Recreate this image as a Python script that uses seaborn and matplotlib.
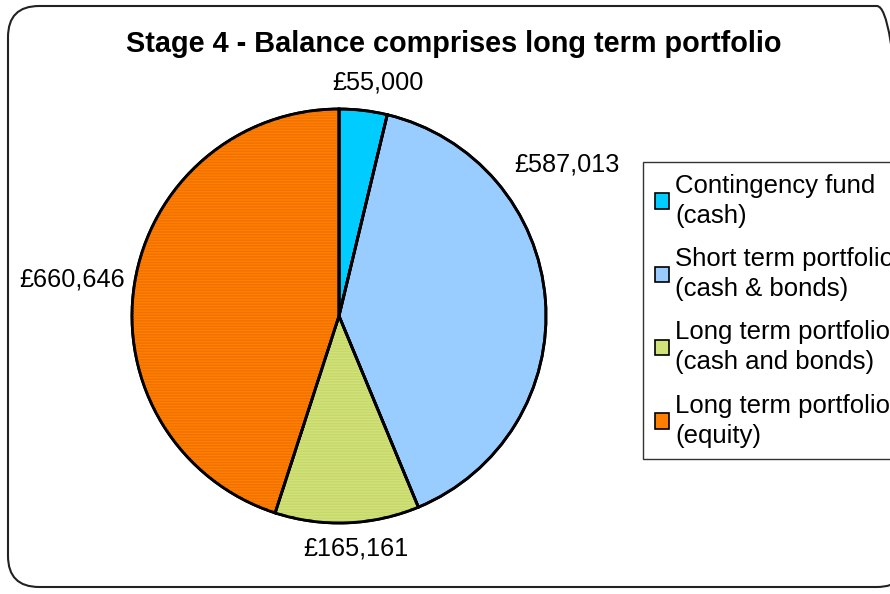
import matplotlib
matplotlib.use("Agg")
import matplotlib.pyplot as plt
from matplotlib.patches import FancyBboxPatch, Patch
import seaborn as sns

sns.set_theme(style="white")
plt.rcParams['font.family'] = ['Liberation Sans', 'DejaVu Sans']
plt.rcParams['hatch.linewidth'] = 1.0
plt.rcParams['text.color'] = 'black'

# ---- data ----
categories = ["Contingency fund\n(cash)", "Short term portfolio\n(cash & bonds)",
              "Long term portfolio\n(cash and bonds)", "Long term portfolio\n(equity)"]
values = [55000, 587013, 165161, 660646]
value_labels = ["£55,000", "£587,013", "£165,161", "£660,646"]
title = "Stage 4 - Balance comprises long term portfolio"

# ---- style ----
colors = ["#00CCFF", "#99CCFF", "#D2E27A", "#FF8000"]
stripe_colors = [None, None, "#C6D86A", "#F07000"]
label_pos = [(0.19, 1.13), (1.10, 0.73), (0.08, -1.125), (-1.29, 0.175)]

fig = plt.figure(figsize=(8.9, 5.94), dpi=100)
fig.patch.set_facecolor("white")

frame = FancyBboxPatch((8 / 890, 7 / 594), 900 / 890, 581 / 594,
                       boxstyle="round,pad=0,rounding_size=0.035",
                       transform=fig.transFigure, fill=False,
                       edgecolor="#222222", linewidth=1.5, mutation_aspect=890 / 594)
fig.patches.append(frame)

cx, cy, r = 339 / 890, (594 - 316) / 594, 207
w, h = 2 * r / 890, 2 * r / 594
ax = fig.add_axes([cx - w / 2, cy - h / 2, w, h])

ax.pie(values, colors=colors, startangle=90, counterclock=False, radius=1,
       wedgeprops=dict(edgecolor="black", linewidth=2))
wedges2, _ = ax.pie(values, colors=["none"] * 4, startangle=90, counterclock=False, radius=1,
                    wedgeprops=dict(linewidth=0))
for wg, sc in zip(wedges2, stripe_colors):
    if sc:
        wg.set_hatch("------")
        wg.set_edgecolor(sc)
ax.pie(values, colors=["none"] * 4, startangle=90, counterclock=False, radius=1,
       wedgeprops=dict(edgecolor="black", linewidth=2, fill=False))
ax.set_xlim(-1, 1)
ax.set_ylim(-1, 1)
ax.set_aspect("equal")
ax.axis("off")

for (x, y), t in zip(label_pos, value_labels):
    ax.text(x, y, t, ha="center", va="center", fontsize=18.2, color="black", clip_on=False)

fig.text(454 / 890, 1 - 44 / 594, title, ha="center", va="center",
         fontsize=20.8, fontweight="bold", color="black")

handles = [Patch(facecolor=c, edgecolor="black", linewidth=1.2) for c in colors]
leg = fig.legend(handles, categories, loc="upper left",
                 bbox_to_anchor=(643 / 890, 1 - 162 / 594),
                 fontsize=18.5, frameon=True, fancybox=False, shadow=False,
                 handlelength=0.55, handleheight=0.55, handletextpad=0.25,
                 labelspacing=0.75, borderpad=0.45, borderaxespad=0)
for t in leg.get_texts():
    t.set_linespacing(1.32)
    t.set_color("black")
leg.get_frame().set_edgecolor("black")
leg.get_frame().set_linewidth(1.0)

fig.savefig("out.png", dpi=100)
